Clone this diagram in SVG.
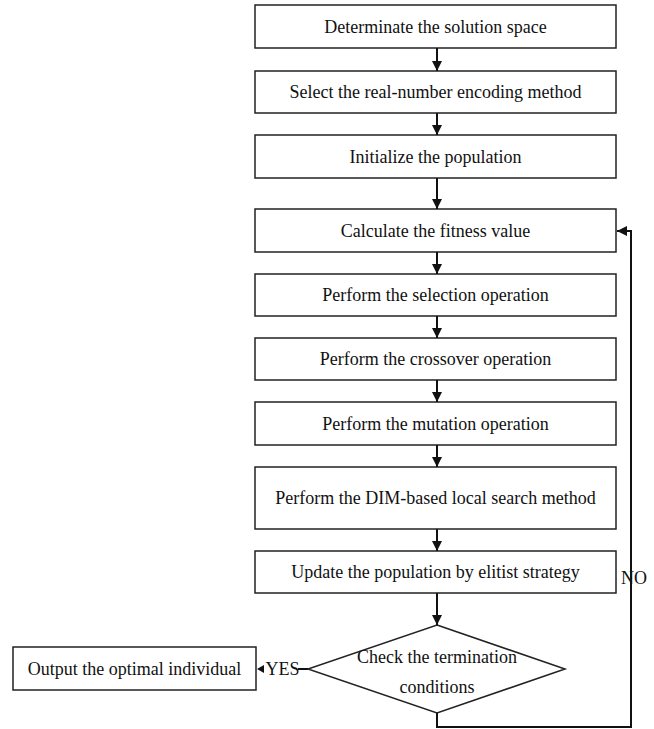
<svg xmlns="http://www.w3.org/2000/svg" width="654" height="729" viewBox="0 0 654 729">
<style>
.b{fill:#fff;stroke:#222;stroke-width:1.5}
.t{font-family:"Liberation Serif",serif;font-size:18px;fill:#111;text-anchor:middle}
.l{fill:none;stroke:#111;stroke-width:2}
</style>
<defs>
<marker id="ah" viewBox="0 0 10 10" refX="10" refY="5" markerWidth="5" markerHeight="5" orient="auto" markerUnits="strokeWidth">
<path d="M0,0L10,5L0,10z" fill="#111"/>
</marker>
</defs>
<rect width="654" height="729" fill="#fff"/>
<g id="n1"><rect class="b" x="255" y="5" width="361" height="43"/><text class="t" x="435.5" y="33">Determinate the solution space</text></g>
<g id="n2"><rect class="b" x="255" y="71" width="361" height="42"/><text class="t" x="435.5" y="98">Select the real-number encoding method</text></g>
<g id="n3"><rect class="b" x="255" y="135" width="361" height="43"/><text class="t" x="435.5" y="163">Initialize the population</text></g>
<g id="n4"><rect class="b" x="255" y="209" width="361" height="43"/><text class="t" x="435.5" y="237">Calculate the fitness value</text></g>
<g id="n5"><rect class="b" x="255" y="274" width="361" height="42"/><text class="t" x="435.5" y="301">Perform the selection operation</text></g>
<g id="n6"><rect class="b" x="255" y="338" width="361" height="42"/><text class="t" x="435.5" y="365">Perform the crossover operation</text></g>
<g id="n7"><rect class="b" x="255" y="402" width="361" height="43"/><text class="t" x="435.5" y="430">Perform the mutation operation</text></g>
<g id="n8"><rect class="b" x="255" y="467" width="361" height="62"/><text class="t" x="435.5" y="504">Perform the DIM-based local search method</text></g>
<g id="n9"><rect class="b" x="255" y="551" width="361" height="42"/><text class="t" x="435.5" y="578">Update the population by elitist strategy</text></g>
<g id="n10"><path class="b" d="M437,625L565,669L437,713L308,669Z"/><text class="t" x="437" y="663">Check the termination</text><text class="t" x="437" y="693">conditions</text></g>
<g id="n11"><rect class="b" x="13" y="647" width="243" height="43"/><text class="t" x="134.5" y="675">Output the optimal individual</text></g>
<g id="edges">
<line class="l" x1="437" y1="48" x2="437" y2="71" marker-end="url(#ah)"/>
<line class="l" x1="437" y1="113" x2="437" y2="135" marker-end="url(#ah)"/>
<line class="l" x1="437" y1="178" x2="437" y2="209" marker-end="url(#ah)"/>
<line class="l" x1="437" y1="252" x2="437" y2="274" marker-end="url(#ah)"/>
<line class="l" x1="437" y1="316" x2="437" y2="338" marker-end="url(#ah)"/>
<line class="l" x1="437" y1="380" x2="437" y2="402" marker-end="url(#ah)"/>
<line class="l" x1="437" y1="445" x2="437" y2="467" marker-end="url(#ah)"/>
<line class="l" x1="437" y1="529" x2="437" y2="551" marker-end="url(#ah)"/>
<line class="l" x1="437" y1="593" x2="437" y2="625" marker-end="url(#ah)"/>
<polyline class="l" points="437,713 437,727 631,727 631,231 617,231" marker-end="url(#ah)"/>
<line class="l" x1="298" y1="669" x2="308" y2="669"/>
<path d="M257,669L264,665L264,673Z" fill="#111"/>
<text class="t" x="282.5" y="675">YES</text>
<text class="t" x="634" y="584">NO</text>
</g>
</svg>
